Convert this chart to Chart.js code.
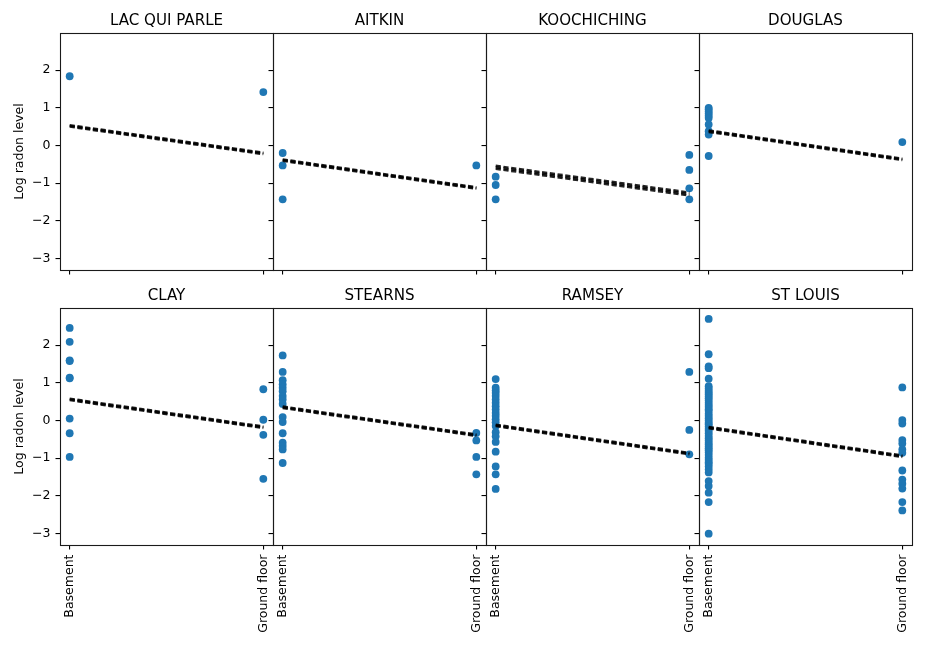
<!DOCTYPE html>
<html><head><meta charset="utf-8">
<script src="https://cdn.jsdelivr.net/npm/chart.js@4/dist/chart.umd.min.js"></script>
<style>
html,body{margin:0;padding:0;background:#fff;}
#wrap{position:relative;width:926px;height:649px;overflow:hidden;background:#fff;}
canvas{position:absolute;}
</style></head><body><div id="wrap"></div>
<script>
// ---- data ----
const counties = ['LAC QUI PARLE', 'AITKIN', 'KOOCHICHING', 'DOUGLAS', 'CLAY', 'STEARNS', 'RAMSEY', 'ST LOUIS'];
const floorLabels = ['Basement', 'Ground floor'];
const yTickValues = [-3, -2, -1, 0, 1, 2];
const yLabel = 'Log radon level';

const lacQuiParleBasement = [1.84];
const lacQuiParleGround = [1.42];
const aitkinBasement = [-0.20, -0.53, -1.43];
const aitkinGround = [-0.53];
const koochichingBasement = [-0.83, -1.05, -1.43];
const koochichingGround = [-0.25, -0.65, -1.14, -1.43];
const douglasBasement = [1.00, 0.96, 0.90, 0.85, 0.79, 0.73, 0.56, 0.38, 0.29, -0.28];
const douglasGround = [0.09];
const clayBasement = [2.46, 2.09, 1.60, 1.58, 1.14, 1.12, 0.05, -0.34, -0.97];
const clayGround = [0.83, 0.02, -0.38, -1.55];
const stearnsBasement = [1.73, 1.29, 1.07, 0.96, 0.87, 0.78, 0.65, 0.56, 0.44, 0.09, -0.04, -0.34, -0.59, -0.68, -0.77, -1.13];
const stearnsGround = [-0.33, -0.53, -0.97, -1.43];
const ramseyBasement = [1.10, 0.87, 0.80, 0.73, 0.65, 0.56, 0.47, 0.38, 0.29, 0.20, 0.12, 0.03, -0.05, -0.15, -0.31, -0.42, -0.57, -0.83, -1.22, -1.43, -1.82];
const ramseyGround = [1.29, -0.25, -0.90];
const stLouisBasement = [2.70, 1.76, 1.44, 1.39, 1.11, 0.91, 0.85, 0.79, 0.74, 0.69, 0.64, 0.59, 0.53, 0.47, 0.41, 0.36, 0.30, 0.25, 0.18, 0.12, 0.06, 0.00, -0.06, -0.10, -0.16, -0.22, -0.27, -0.34, -0.41, -0.47, -0.53, -0.59, -0.64, -0.69, -0.74, -0.79, -0.85, -0.92, -0.99, -1.05, -1.11, -1.16, -1.22, -1.30, -1.38, -1.61, -1.74, -1.92, -2.17, -3.01];
const stLouisGround = [0.88, 0.01, -0.08, -0.52, -0.61, -0.77, -0.86, -1.33, -1.57, -1.68, -1.81, -2.17, -2.39];

// fitted line samples: value at Basement / value at Ground floor
const lacQuiParleFitStart = [0.54, 0.52, 0.50];
const lacQuiParleFitEnd = [-0.19, -0.21, -0.23];
const aitkinFitStart = [-0.37, -0.39, -0.41];
const aitkinFitEnd = [-1.11, -1.13, -1.15];
const koochichingFitStart = [-0.54, -0.58, -0.62];
const koochichingFitEnd = [-1.25, -1.29, -1.33];
const douglasFitStart = [0.40, 0.38, 0.36];
const douglasFitEnd = [-0.35, -0.37, -0.39];
const clayFitStart = [0.58, 0.56, 0.54];
const clayFitEnd = [-0.16, -0.18, -0.20];
const stearnsFitStart = [0.37, 0.35, 0.33];
const stearnsFitEnd = [-0.37, -0.39, -0.41];
const ramseyFitStart = [-0.11, -0.13, -0.15];
const ramseyFitEnd = [-0.86, -0.88, -0.90];
const stLouisFitStart = [-0.17, -0.19, -0.21];
const stLouisFitEnd = [-0.93, -0.95, -0.97];

const basementSets = [lacQuiParleBasement, aitkinBasement, koochichingBasement, douglasBasement, clayBasement, stearnsBasement, ramseyBasement, stLouisBasement];
const groundSets = [lacQuiParleGround, aitkinGround, koochichingGround, douglasGround, clayGround, stearnsGround, ramseyGround, stLouisGround];
const fitStarts = [lacQuiParleFitStart, aitkinFitStart, koochichingFitStart, douglasFitStart, clayFitStart, stearnsFitStart, ramseyFitStart, stLouisFitStart];
const fitEnds = [lacQuiParleFitEnd, aitkinFitEnd, koochichingFitEnd, douglasFitEnd, clayFitEnd, stearnsFitEnd, ramseyFitEnd, stLouisFitEnd];

// ---- layout ----
const colLeft = [60, 273, 486, 699];
const rowTop = [33, 308];
const panelW = 213, panelH = 237;
const FONT = "'DejaVu Sans', 'Liberation Sans', sans-serif";
const TICK_SIZE = 12.5, TITLE_SIZE = 15.1;
const fmtMinus = v => (v < 0 ? '\u2212' + Math.abs(v) : String(v));

const boxPlugin = {
  id: 'box',
  afterDraw(chart) {
    const a = chart.chartArea, ctx = chart.ctx;
    ctx.save();
    ctx.strokeStyle = '#1a1a1a';
    ctx.lineWidth = 1.1;
    ctx.strokeRect(Math.round(a.left) + 0.5, Math.round(a.top) + 0.5, Math.round(a.right - a.left), Math.round(a.bottom - a.top));
    ctx.restore();
  }
};

const wrap = document.getElementById('wrap');
counties.forEach((name, i) => {
  const r = Math.floor(i / 4), c = i % 4;
  const L = c === 0 ? 60 : 12, T = 30, R = 4, B = r === 0 ? 12 : 100;
  const cv = document.createElement('canvas');
  const W = L + panelW + R, H = T + panelH + B;
  cv.width = W; cv.height = H;
  cv.style.left = (colLeft[c] - L) + 'px';
  cv.style.top = (rowTop[r] - T) + 'px';
  cv.style.width = W + 'px'; cv.style.height = H + 'px';
  wrap.appendChild(cv);

  const datasets = [];
  fitStarts[i].forEach((s, k) => {
    datasets.push({
      type: 'line',
      data: [{x: 0, y: s}, {x: 1, y: fitEnds[i][k]}],
      borderColor: 'rgba(0,0,0,0.85)',
      borderWidth: 2.4,
      borderDash: [5.2, 2.6],
      borderCapStyle: 'butt',
      pointRadius: 0,
      fill: false,
      order: 0
    });
  });
  datasets.push({
    type: 'scatter',
    data: basementSets[i].map(v => ({x: 0, y: v})).concat(groundSets[i].map(v => ({x: 1, y: v}))),
    backgroundColor: '#1f77b4',
    borderWidth: 0,
    pointRadius: 3.9,
    pointHoverRadius: 3.9,
    order: 1
  });

  new Chart(cv, {
    data: {datasets},
    plugins: [boxPlugin],
    options: {
      responsive: false,
      maintainAspectRatio: false,
      animation: false,
      events: [],
      layout: {autoPadding: false, padding: {left: 0, right: R, top: 0, bottom: 0}},
      plugins: {
        legend: {display: false},
        tooltip: {enabled: false},
        title: {
          display: true, text: name, color: '#000', fullSize: false,
          font: {family: FONT, size: TITLE_SIZE, weight: 'normal', lineHeight: 1.2},
          padding: {top: 30 - TITLE_SIZE * 1.2 - 3, bottom: 3}
        }
      },
      scales: {
        x: {
          type: 'linear', min: -0.05, max: 1.05,
          afterBuildTicks: s => { s.ticks = [0, 1].map(v => ({value: v})); },
          afterFit: s => { s.height = B; s.paddingLeft = 0; s.paddingRight = 0; },
          border: {display: false},
          grid: {drawOnChartArea: false, drawTicks: true, tickLength: 4.5, color: '#000', lineWidth: 1.1},
          ticks: {
            display: r === 1, autoSkip: false, maxRotation: 90, minRotation: 90, padding: 5,
            color: '#000', font: {family: FONT, size: TICK_SIZE},
            callback: v => floorLabels[v]
          }
        },
        y: {
          type: 'linear', min: -3.31, max: 2.99,
          afterBuildTicks: s => { s.ticks = yTickValues.map(v => ({value: v})); },
          afterFit: s => { s.width = L; s.paddingTop = 0; s.paddingBottom = 0; },
          border: {display: false},
          grid: {drawOnChartArea: false, drawTicks: true, tickLength: 4.5, color: '#000', lineWidth: 1.1},
          ticks: {
            display: c === 0, padding: 5, color: '#000',
            font: {family: FONT, size: TICK_SIZE},
            callback: fmtMinus
          },
          title: {
            display: c === 0, text: yLabel, color: '#000',
            font: {family: FONT, size: TICK_SIZE},
            padding: {top: 20 - TICK_SIZE * 0.6, bottom: 0}
          }
        }
      }
    }
  });
});
</script></body></html>
